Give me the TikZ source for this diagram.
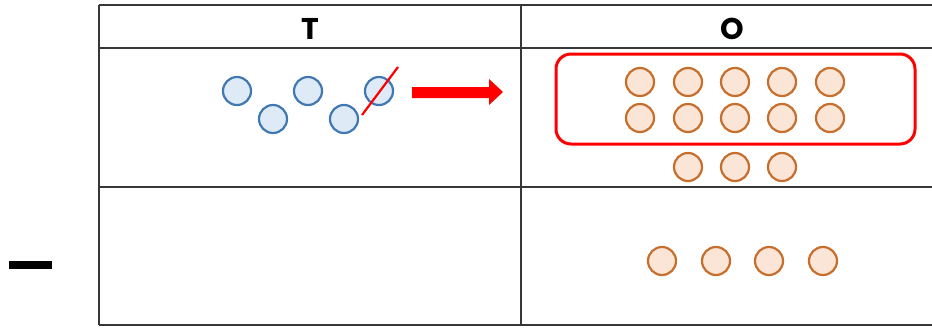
\documentclass[tikz,border=0pt]{standalone}
\usepackage{fontspec}
\setsansfont{Poppins}
\usepackage{tikz}
\definecolor{bluefill}{RGB}{222,235,247}
\definecolor{blueline}{RGB}{65,119,178}
\definecolor{orgfill}{RGB}{251,229,214}
\definecolor{orgline}{RGB}{200,110,45}
\definecolor{gridgray}{RGB}{55,55,55}
\definecolor{rosu}{RGB}{255,0,0}

\begin{document}
\begin{tikzpicture}[x=1pt, y=-1pt]
        \tikzstyle{every node} = [font=\sffamily\bfseries\fontsize{30}{32}\selectfont]
        \tikzstyle{blu} = [circle, draw=blueline, fill=bluefill, line width=2.2pt, minimum size=28pt, inner sep=0pt]
        \tikzstyle{org} = [circle, draw=orgline, fill=orgfill, line width=2.2pt, minimum size=28pt, inner sep=0pt]
        \tikzstyle{grila} = [draw=gridgray, line width=1.8pt]

        \useasboundingbox (0,0) rectangle (932,327);

        \def\lina{5}
        \def\linb{48}
        \def\linc{187}
        \def\lind{325}
        \def\cola{99}
        \def\colb{521}

        % tabelul
        \foreach \y in {\lina,\linb,\linc,\lind}
            \draw[grila] (\cola,\y) -- (940,\y);
        \foreach \x in {\cola,\colb}
            \draw[grila] (\x,\lina) -- (\x,\lind);

        \node (capT) at (310,29) {T};
        \node (capO) at (732,29) {O};

        % semnul minus
        \draw[line width=8pt] (9,265) -- (52,265);

        % randul de sus, stanga
        \foreach[count=\c] \x/\y in {237/91, 273/119, 308/91, 344/119, 379/91}
            \node[blu] (b\c) at (\x,\y) {};
        \coordinate (taieA) at (362,115);
        \coordinate (taieB) at (398,67);
        \draw[rosu, line width=2.2pt] (taieA) -- (taieB);

        \fill[rosu] (412,87) -- (489,87) -- (489,79) -- (503,92) -- (489,105) -- (489,98) -- (412,98) -- cycle;

        % randul de sus, dreapta
        \foreach[count=\c] \x in {640,688,735,782,830} {
            \node[org] (oa\c) at (\x,82) {};
            \node[org] (ob\c) at (\x,118) {};
        }
        \foreach[count=\c] \x in {688,735,782}
            \node[org] (oc\c) at (\x,167) {};
        \draw[rosu, line width=3pt, rounded corners=15pt] (556,54) rectangle (915,144);

        % randul de jos
        \foreach[count=\c] \x in {662,716,769,823}
            \node[org] (od\c) at (\x,261) {};
    \end{tikzpicture}
\end{document}
